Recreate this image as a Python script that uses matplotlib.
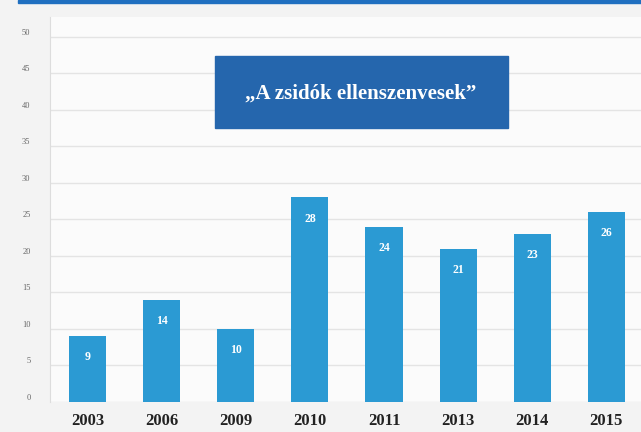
import matplotlib.pyplot as plt
from matplotlib.patches import Rectangle

years = ["2003", "2006", "2009", "2010", "2011", "2013", "2014", "2015"]
values = [9, 14, 10, 28, 24, 21, 23, 26]
y_ticks = [0, 5, 10, 15, 20, 25, 30, 35, 40, 45, 50]
title = "\u201eA zsidók ellenszenvesek\u201d"

bar_color = "#2b9ad3"
box_color = "#2566ad"

fig = plt.figure(figsize=(6.41, 4.32), dpi=100, facecolor="#f3f3f3")
ax = fig.add_axes([50 / 641, 30 / 432, 591 / 641, 385 / 432])
ax.set_facecolor("#fbfbfb")

x = list(range(len(years)))
ax.bar(x, values, width=0.5, color=bar_color, zorder=3)
for xi, v in zip(x, values):
    ax.text(xi, v - 2.9, str(v), ha="center", va="center", color="white",
            fontsize=8.5, fontweight="bold", family="Liberation Serif", zorder=4)

ax.set_xlim(-0.51, 7.47)
ax.set_ylim(0, 52.7)
ax.set_yticks(y_ticks)
ax.set_yticklabels([str(t) for t in y_ticks], fontsize=6, color="#666666",
                   family="Liberation Serif", va="bottom")
ax.set_xticks(x)
ax.set_xticklabels(years, fontsize=12, fontweight="bold", color="#222222",
                   family="Liberation Serif")
ax.tick_params(axis="both", length=0)
ax.tick_params(axis="y", pad=14)
ax.tick_params(axis="x", pad=8)
ax.grid(axis="y", color="#e4e4e4", linewidth=1, zorder=0)
for side in ["top", "right", "bottom"]:
    ax.spines[side].set_visible(False)
ax.spines["left"].set_color("#dddddd")

# title box
fig.patches.append(Rectangle((215 / 641, 1 - 128 / 432), 293 / 641, 72 / 432,
                             transform=fig.transFigure, color=box_color, zorder=5))
fig.text(361 / 641, 1 - 94 / 432, title, ha="center", va="center", color="white",
         fontsize=15, fontweight="bold", family="Liberation Serif", zorder=6)

# blue line on top
fig.patches.append(Rectangle((18 / 641, 1 - 3 / 432), 623 / 641, 3 / 432,
                             transform=fig.transFigure, color="#1f6fc0", zorder=5))

fig.savefig("out.png", dpi=100, facecolor=fig.get_facecolor())
